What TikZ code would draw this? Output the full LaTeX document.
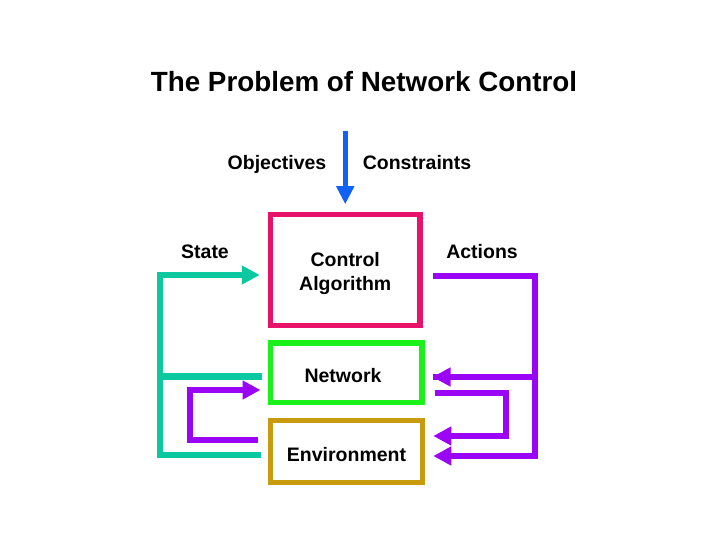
\documentclass[tikz,border=0pt]{standalone}
\usepackage{fontspec}
\setmainfont{Liberation Sans}
\usepackage{tikz}
\usetikzlibrary{arrows.meta,positioning,calc}
\definecolor{ctrlpink}{HTML}{E8126A}
\definecolor{netgreen}{HTML}{1AF01A}
\definecolor{envgold}{HTML}{C89A0E}
\definecolor{stateteal}{HTML}{0AC8A0}
\definecolor{actpurple}{HTML}{9A06F5}
\definecolor{goalblue}{HTML}{0F62F5}
\tikzset{
  boxnode/.style={draw,line width=5.5pt,fill=white},
  boxtext/.style={align=center,font=\fontsize{19.5}{24}\selectfont\bfseries},
  labelnode/.style={font=\fontsize{19.5}{24}\selectfont\bfseries},
  titlenode/.style={font=\fontsize{27.8}{32}\selectfont\bfseries}
}

\begin{document}
\begin{tikzpicture}[
  x=1pt,y=-1pt,
  stateline/.style={draw=stateteal,line width=6.5pt,line join=miter},
  actline/.style={draw=actpurple,line width=6pt,line join=miter},
  tip/.style={-{Triangle[length=18pt,width=18pt]}},
  goalline/.style={draw=goalblue,line width=5pt,-{Triangle[length=18pt,width=17pt]}}
]
  \useasboundingbox[fill=white] (0,0) rectangle (720,540);

  \node[titlenode] (title) at (364,82) {The Problem of Network Control};

  \node[boxnode,draw=ctrlpink,minimum width=149.5pt,minimum height=111pt] (ctrl) at (345.25,270) {};
  \node[boxnode,draw=netgreen,minimum width=151.5pt,minimum height=59.5pt] (net) at (346,372.75) {};
  \node[boxnode,draw=envgold,minimum width=152pt,minimum height=62pt] (env) at (346.5,451.5) {};
  \node[boxtext] (ctrltext) at ([yshift=-4pt]ctrl.center) {Control\\Algorithm};
  \node[boxtext] (nettext) at ([xshift=-3pt,yshift=-2.5pt]net.center) {Network};
  \node[boxtext] (envtext) at ([yshift=-3.5pt]env.center) {Environment};

  \node[labelnode] (obj) at (277,164) {Objectives};
  \node[labelnode] (cons) at (417,163) {Constraints};
  \node[labelnode] (state) at (205,252) {State};
  \node[labelnode] (act) at (482,252) {Actions};

  % objectives and constraints into the controller
  \coordinate (goal) at (345,131);
  \draw[goalline] (ctrl.north |- goal) -- ([yshift=7.5pt]ctrl.north);

  % state feedback
  \coordinate (sbend) at (160,275);
  \draw[stateline,tip] ([xshift=-6.5pt,yshift=-3.5pt]env.west) -| (sbend) -- ([xshift=-8pt]ctrl.west |- sbend);
  \draw[stateline] ([xshift=-5.5pt,yshift=-3.75pt]net.west) coordinate (nt) -- (sbend |- nt);

  % environment acts on the network
  \coordinate (lloop) at (190,390);
  \draw[actline,tip] ([xshift=-9.5pt,yshift=11.5pt]env.west) -| (lloop) -- ([xshift=-7pt]net.west |- lloop);

  % actions
  \coordinate (abend) at (535,276);
  \draw[actline,tip] ([xshift=10pt]ctrl.east |- abend) -- (abend) |- ([xshift=8pt,yshift=-4.5pt]env.east);
  \draw[actline,tip] ([xshift=8pt,yshift=-4.25pt]net.east) coordinate (na) -- (abend |- na) -- (na);
  \coordinate (rloop) at (505.5,393);
  \draw[actline,tip] ([xshift=10pt]net.east |- rloop) -- (rloop) |- ([xshift=8pt,yshift=15.5pt]env.east);
\end{tikzpicture}
\end{document}
